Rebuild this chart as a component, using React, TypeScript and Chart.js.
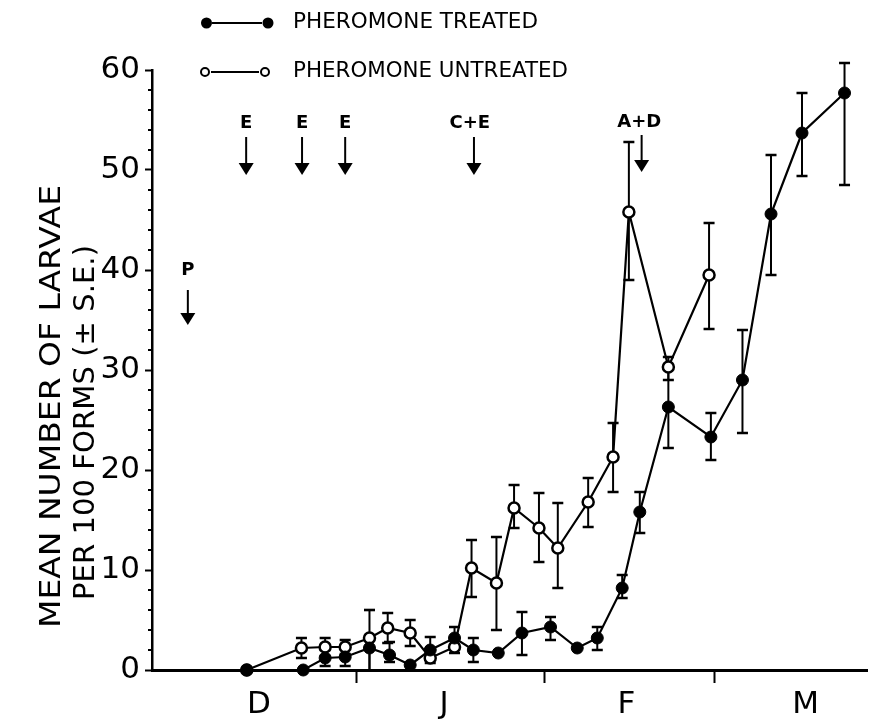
import React, { useEffect, useRef } from 'react';
import { Chart, registerables } from 'chart.js';
Chart.register(...registerables);

// ---- data (x in days from 1 December) ----
const treatedDays = [13, 22.3, 25.9, 29.2, 33.2, 36.5, 39.9, 43.2, 47.2, 50.3, 54.4, 58.3, 63.0, 67.4, 70.7, 74.8, 77.7, 82.4, 89.4, 94.6, 99.3, 104.4, 111.4];
const treatedMean = [0, 0, 1.2, 1.3, 2.2, 1.5, 0.5, 2.0, 3.2, 2.0, 1.7, 3.7, 4.3, 2.2, 3.2, 8.2, 15.8, 26.3, 23.3, 29.0, 45.6, 53.7, 57.7];
const treatedHi = [null, null, 2.0, 2.2, 3.2, 2.8, null, 3.3, 4.3, 3.2, null, 5.8, 5.3, null, 4.3, 9.5, 17.8, 30.3, 25.7, 34.0, 51.5, 57.7, 60.7];
const treatedLo = [null, null, 0.4, 0.4, 0, 0.8, null, 0.7, 1.7, 0.8, null, 1.5, 3.0, null, 2.0, 7.2, 13.7, 22.2, 21.0, 23.7, 39.5, 49.4, 48.5];

const untreatedDays = [13, 22.0, 25.9, 29.2, 33.2, 36.2, 39.9, 43.2, 47.2, 50.0, 54.1, 57.0, 61.1, 64.2, 69.2, 73.3, 75.9, 82.4, 89.1];
const untreatedMean = [0, 2.2, 2.3, 2.3, 3.2, 4.2, 3.7, 1.2, 2.3, 10.2, 8.7, 16.2, 14.2, 12.2, 16.8, 21.3, 45.8, 30.3, 39.5];
const untreatedHi = [null, 3.2, 3.2, 3.0, 6.0, 5.7, 5.0, null, null, 13.0, 13.3, 18.5, 17.7, 16.7, 19.2, 24.7, 52.8, 31.3, 44.7];
const untreatedLo = [null, 1.2, 1.4, 1.6, 0, 2.7, 2.4, null, null, 7.3, 4.0, 14.2, 10.8, 8.2, 14.3, 17.8, 39.0, 29.0, 34.1];

const monthBounds = [31, 62, 90];
const monthLabelDays = [15, 45.5, 75.5, 105];
const monthLabels = ['D', 'J', 'F', 'M'];
const yTicks = [0, 10, 20, 30, 40, 50, 60];

const seriesLabels = ['PHEROMONE TREATED', 'PHEROMONE UNTREATED'];
const yTitleLines = ['MEAN NUMBER OF LARVAE', 'PER 100 FORMS (\u00B1 S.E.)'];

// treatment annotations
const annLabels = ['P', 'E', 'E', 'E', 'C+E', 'A+D'];
const annDays = [3.3, 12.9, 22.1, 29.2, 50.4, 78.0];
const annLabelDays = [3.3, 12.9, 22.1, 29.2, 49.7, 77.6];
const annLabelY = [40.0, 54.7, 54.7, 54.7, 54.7, 54.8];
const annTopY = [38.0, 53.3, 53.3, 53.3, 53.3, 53.5];
const annTipY = [34.5, 49.5, 49.5, 49.5, 49.5, 49.8];

const FONT = "'DejaVu Sans', sans-serif";

function drawStretched(ctx: CanvasRenderingContext2D, text: string, cx: number, cy: number, len: number, rotate: boolean, font: string) {
  ctx.save();
  ctx.font = font;
  ctx.translate(cx, cy);
  if (rotate) ctx.rotate(-Math.PI / 2);
  const w = ctx.measureText(text).width;
  ctx.scale(len / w, 1);
  ctx.textAlign = 'center';
  ctx.textBaseline = 'middle';
  ctx.fillStyle = '#000';
  ctx.fillText(text, 0, 0);
  ctx.restore();
}

const decor = {
  id: 'decor',
  beforeDatasetsDraw(chart: any) {
    const { ctx, scales } = chart;
    const x = scales.x, y = scales.y;
    ctx.save();
    ctx.strokeStyle = '#000';
    const drawSet = (days: number[], hi: (number | null)[], lo: (number | null)[]) => {
      for (let i = 0; i < days.length; i++) {
        const h = hi[i], l = lo[i];
        if (h == null || l == null) continue;
        const px = x.getPixelForValue(days[i]);
        const yh = y.getPixelForValue(h);
        const yl = y.getPixelForValue(l);
        ctx.lineWidth = 2;
        ctx.beginPath();
        ctx.moveTo(px, yh);
        ctx.lineTo(px, yl);
        ctx.stroke();
        ctx.lineWidth = 2.6;
        ctx.beginPath();
        ctx.moveTo(px - 5.5, yh);
        ctx.lineTo(px + 5.5, yh);
        if (l > 0) {
          ctx.moveTo(px - 5.5, yl);
          ctx.lineTo(px + 5.5, yl);
        }
        ctx.stroke();
      }
    };
    drawSet(treatedDays, treatedHi, treatedLo);
    drawSet(untreatedDays, untreatedHi, untreatedLo);
    ctx.restore();
  },
  afterDraw(chart: any) {
    const { ctx, scales } = chart;
    const x = scales.x, y = scales.y;
    ctx.save();
    ctx.strokeStyle = '#000';
    ctx.fillStyle = '#000';
    // minor y ticks
    ctx.lineWidth = 2;
    const ax = chart.chartArea.left;
    for (let v = 2; v < 60; v += 2) {
      if (v % 10 === 0) continue;
      const py = y.getPixelForValue(v);
      ctx.beginPath();
      ctx.moveTo(ax - 4, py);
      ctx.lineTo(ax, py);
      ctx.stroke();
    }
    // legend
    ctx.lineWidth = 2;
    ctx.beginPath();
    ctx.moveTo(212, 23);
    ctx.lineTo(262, 23);
    ctx.moveTo(211, 72);
    ctx.lineTo(259, 72);
    ctx.stroke();
    ctx.beginPath();
    ctx.arc(206.5, 23, 5.5, 0, Math.PI * 2);
    ctx.arc(268, 23, 5.5, 0, Math.PI * 2);
    ctx.fill();
    ctx.fillStyle = '#fff';
    ctx.lineWidth = 2;
    [205, 265].forEach((cx) => {
      ctx.beginPath();
      ctx.arc(cx, 72, 4, 0, Math.PI * 2);
      ctx.fill();
      ctx.stroke();
    });
    ctx.fillStyle = '#000';
    drawStretched(ctx, seriesLabels[0], 415.5, 23, 245, false, `21px ${FONT}`);
    drawStretched(ctx, seriesLabels[1], 430.5, 72, 275, false, `21px ${FONT}`);
    // y title
    drawStretched(ctx, yTitleLines[0], 53, 406.5, 443, true, `28px ${FONT}`);
    drawStretched(ctx, yTitleLines[1], 87, 422.5, 355, true, `28px ${FONT}`);
    // annotations
    for (let i = 0; i < annLabels.length; i++) {
      const px = x.getPixelForValue(annDays[i]);
      const lx = x.getPixelForValue(annLabelDays[i]);
      const top = y.getPixelForValue(annTopY[i]);
      const tip = y.getPixelForValue(annTipY[i]);
      const ly = y.getPixelForValue(annLabelY[i]);
      ctx.lineWidth = 2;
      ctx.beginPath();
      ctx.moveTo(px, top);
      ctx.lineTo(px, tip - 10);
      ctx.stroke();
      ctx.beginPath();
      ctx.moveTo(px - 7.5, tip - 12);
      ctx.lineTo(px + 7.5, tip - 12);
      ctx.lineTo(px, tip);
      ctx.closePath();
      ctx.fill();
      ctx.font = `bold 18px ${FONT}`;
      ctx.textAlign = 'center';
      ctx.textBaseline = 'middle';
      ctx.fillText(annLabels[i], lx, ly);
    }
    ctx.restore();
  },
};

export default function App() {
  const ref = useRef<HTMLCanvasElement | null>(null);
  useEffect(() => {
    document.body.style.margin = '0';
    const canvas = ref.current;
    if (!canvas) return;
    Chart.defaults.font.family = FONT;
    const chart = new Chart(canvas, {
      type: 'line',
      data: {
        datasets: [
          {
            label: seriesLabels[0],
            data: treatedDays.map((d, i) => ({ x: d, y: treatedMean[i] })),
            borderColor: '#000',
            borderWidth: 2.2,
            backgroundColor: '#000',
            pointBackgroundColor: '#000',
            pointBorderColor: '#000',
            pointBorderWidth: 1,
            pointRadius: 6,
            pointHoverRadius: 6,
            tension: 0,
            clip: false as any,
          },
          {
            label: seriesLabels[1],
            data: untreatedDays.map((d, i) => ({ x: d, y: untreatedMean[i] })),
            borderColor: '#000',
            borderWidth: 2.2,
            backgroundColor: '#fff',
            pointBackgroundColor: '#fff',
            pointBorderColor: '#000',
            pointBorderWidth: 2.5,
            pointRadius: 5.5,
            pointHoverRadius: 5.5,
            tension: 0,
            clip: false as any,
          },
        ],
      },
      options: {
        animation: false,
        responsive: false,
        maintainAspectRatio: false,
        layout: { padding: { top: 70, left: 0, right: 0, bottom: 0 } },
        plugins: { legend: { display: false }, tooltip: { enabled: false } },
        scales: {
          x: {
            type: 'linear',
            min: -2.6,
            max: 115.1,
            afterFit: (s: any) => { s.height = 56; },
            afterBuildTicks: (s: any) => {
              const vals = [...monthBounds, ...monthLabelDays].sort((a, b) => a - b);
              s.ticks = vals.map((v) => ({ value: v }));
            },
            ticks: {
              autoSkip: false,
              maxRotation: 0,
              minRotation: 0,
              padding: 3,
              color: '#000',
              font: { size: 31, family: FONT, lineHeight: 1.2 },
              callback: (v: any) => {
                const idx = monthLabelDays.indexOf(Number(v));
                return idx >= 0 ? monthLabels[idx] : '';
              },
            },
            grid: {
              drawOnChartArea: false,
              drawTicks: true,
              tickLength: 13,
              tickWidth: 2,
              color: (c: any) => (c.tick && monthBounds.includes(c.tick.value) ? '#000' : 'rgba(0,0,0,0)'),
            },
            border: { display: true, color: '#000', width: 3 },
          },
          y: {
            type: 'linear',
            min: 0,
            max: 60,
            afterFit: (s: any) => { s.width = 152; },
            afterBuildTicks: (s: any) => {
              s.ticks = yTicks.map((v) => ({ value: v }));
            },
            ticks: {
              padding: 5,
              color: '#000',
              font: { size: 31, family: FONT },
            },
            grid: {
              drawOnChartArea: false,
              drawTicks: true,
              tickLength: 7,
              tickWidth: 2,
              color: '#000',
            },
            border: { display: true, color: '#000', width: 2.5 },
          },
        },
      },
      plugins: [decor as any],
    });
    return () => chart.destroy();
  }, []);
  return (
    <div style={{ width: 875, height: 726 }}>
      <canvas ref={ref} width={875} height={726} style={{ display: 'block', width: 875, height: 726 }} />
    </div>
  );
}
